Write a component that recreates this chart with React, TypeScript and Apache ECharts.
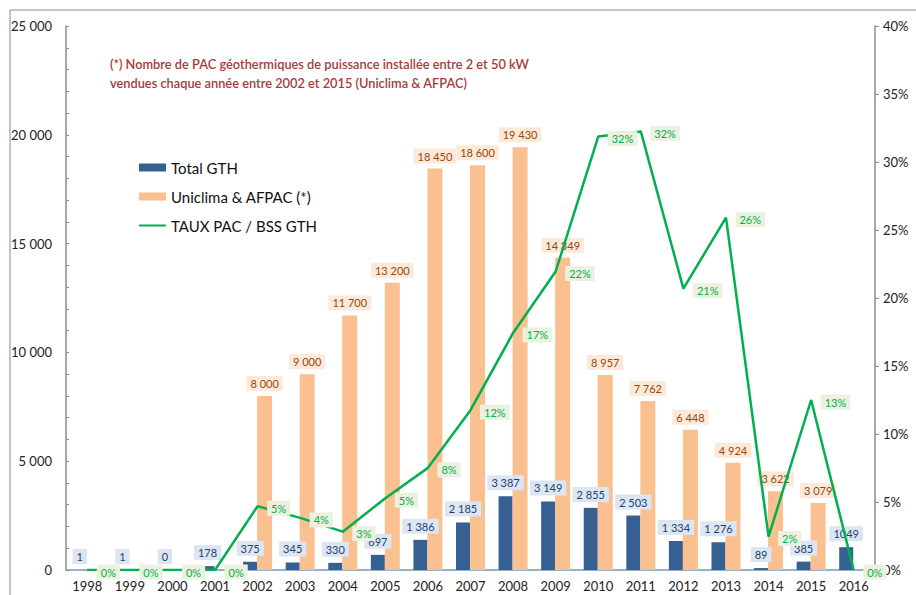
import React, { useEffect, useRef } from "react";
import * as echarts from "echarts";

const years = ["1998","1999","2000","2001","2002","2003","2004","2005","2006","2007","2008","2009","2010","2011","2012","2013","2014","2015","2016"];
const totalGTH = [1, 1, 0, 178, 375, 345, 330, 697, 1386, 2185, 3387, 3149, 2855, 2503, 1334, 1276, 89, 385, 1049];
const uniclima = [null, null, null, null, 8000, 9000, 11700, 13200, 18450, 18600, 19430, 14349, 8957, 7762, 6448, 4924, 3622, 3079, null];
const tauxPct = [0, 0, 0, 0, 4.69, 3.83, 2.82, 5.28, 7.51, 11.75, 17.43, 21.95, 31.87, 32.25, 20.69, 25.91, 2.46, 12.5, 0];
const gthLabels = ["1","1","0","178","375","345","330","697","1 386","2 185","3 387","3 149","2 855","2 503","1 334","1 276","89","385","1049"];
const leftTicks = [0, 5000, 10000, 15000, 20000, 25000];
const rightTicks = [0, 5, 10, 15, 20, 25, 30, 35, 40];
const noteLines = [
  "(*) Nombre de PAC géothermiques de puissance installée entre 2 et 50 kW",
  "vendues chaque année entre 2002 et 2015 (Uniclima & AFPAC)",
];

const FONT = "Lato, 'Open Sans', sans-serif";

function fmtThousands(v: number): string {
  return String(v).replace(/\B(?=(\d{3})+(?!\d))/g, " ");
}

export default function App() {
  const ref = useRef<HTMLDivElement>(null);
  useEffect(() => {
    if (!ref.current) return;
    const chart = echarts.init(ref.current, null, { renderer: "svg" });
    chart.setOption({
      animation: false,
      textStyle: { fontFamily: FONT },
      grid: { left: 66, right: 41, top: 26, bottom: 25, containLabel: false },
      graphic: [
        {
          type: "rect",
          shape: { x: 10, y: 10, width: 920, height: 600 },
          style: { fill: "none", stroke: "#8c8c8c", lineWidth: 1 },
          silent: true,
        },
        {
          type: "text",
          left: 110,
          top: 54,
          style: {
            text: noteLines.join("\n"),
            fill: "#a83a3a",
            font: `600 12.8px ${FONT}`,
            lineHeight: 19,
          },
        },
      ],
      legend: {
        orient: "vertical",
        left: 138,
        top: 160,
        padding: 0,
        itemWidth: 27,
        itemHeight: 8,
        itemGap: 14,
        textStyle: { fontSize: 15, color: "#111", fontFamily: FONT },
        data: [
          { name: "Total GTH", icon: "rect" },
          { name: "Uniclima & AFPAC (*)", icon: "rect" },
          { name: "TAUX PAC / BSS GTH", itemStyle: { opacity: 0 } },
        ],
      },
      xAxis: [
        {
          type: "category",
          data: years,
          axisLine: { lineStyle: { color: "#8c8c8c", width: 1.5 } },
          axisTick: { show: false },
          axisLabel: { color: "#222", fontSize: 13, margin: 9, interval: 0 },
        },
        {
          type: "category",
          data: years,
          position: "top",
          axisLine: { show: true, lineStyle: { color: "#95b3d7", width: 1.5 } },
          axisTick: { show: false },
          axisLabel: { show: false },
        },
      ],
      yAxis: [
        {
          type: "value",
          min: leftTicks[0],
          max: leftTicks[leftTicks.length - 1],
          interval: 5000,
          axisLine: { show: true, lineStyle: { color: "#8c8c8c", width: 1.5 } },
          axisTick: { show: true, inside: true, length: 3, lineStyle: { color: "#8c8c8c" } },
          minorTick: { show: true, splitNumber: 5, length: 3, lineStyle: { color: "#8c8c8c" } },
          splitLine: { show: false },
          axisLabel: {
            color: "#222",
            fontSize: 13,
            margin: 14,
            formatter: (v: number) => fmtThousands(v),
          },
        },
        {
          type: "value",
          min: rightTicks[0],
          max: rightTicks[rightTicks.length - 1],
          interval: 5,
          position: "right",
          axisLine: { show: true, lineStyle: { color: "#8c8c8c", width: 1.5 } },
          axisTick: { show: true, length: 4, lineStyle: { color: "#8c8c8c" } },
          splitLine: { show: false },
          axisLabel: {
            color: "#222",
            fontSize: 13,
            margin: 8,
            formatter: (v: number) => v + "%",
          },
        },
      ],
      series: [
        {
          name: "Total GTH",
          type: "bar",
          data: totalGTH,
          barWidth: 14,
          barGap: "0%",
          itemStyle: { color: "#376092" },
          label: {
            show: true,
            position: "top",
            distance: 6,
            fontSize: 11,
            color: "#1f3f6e",
            backgroundColor: "#dce6f2",
            padding: [2, 4],
            formatter: (p: any) => gthLabels[p.dataIndex],
          },
          z: 2,
        },
        {
          name: "Uniclima & AFPAC (*)",
          type: "bar",
          data: uniclima,
          barWidth: 15,
          barGap: "0%",
          itemStyle: { color: "#fac090" },
          label: {
            show: true,
            position: "top",
            distance: 5,
            fontSize: 11,
            color: "#984807",
            backgroundColor: "#fde9d9",
            padding: [2, 4],
            formatter: (p: any) => fmtThousands(p.value),
          },
          z: 2,
        },
        {
          name: "TAUX PAC / BSS GTH",
          type: "line",
          yAxisIndex: 1,
          data: tauxPct,
          symbol: "circle",
          symbolSize: 1,
          showSymbol: true,
          lineStyle: { color: "#00b050", width: 2.5 },
          itemStyle: { color: "#00b050" },
          label: {
            show: true,
            position: "right",
            distance: 9,
            offset: [0, 2],
            fontSize: 11,
            color: "#00b050",
            backgroundColor: "#ebf1de",
            padding: [2, 4],
            formatter: (p: any) => Math.round(p.value) + "%",
          },
          z: 5,
        },
      ],
    });
    return () => chart.dispose();
  }, []);
  return (
    <div
      ref={ref}
      style={{ position: "absolute", left: 0, top: 0, width: 916, height: 595, background: "#fff" }}
    />
  );
}
